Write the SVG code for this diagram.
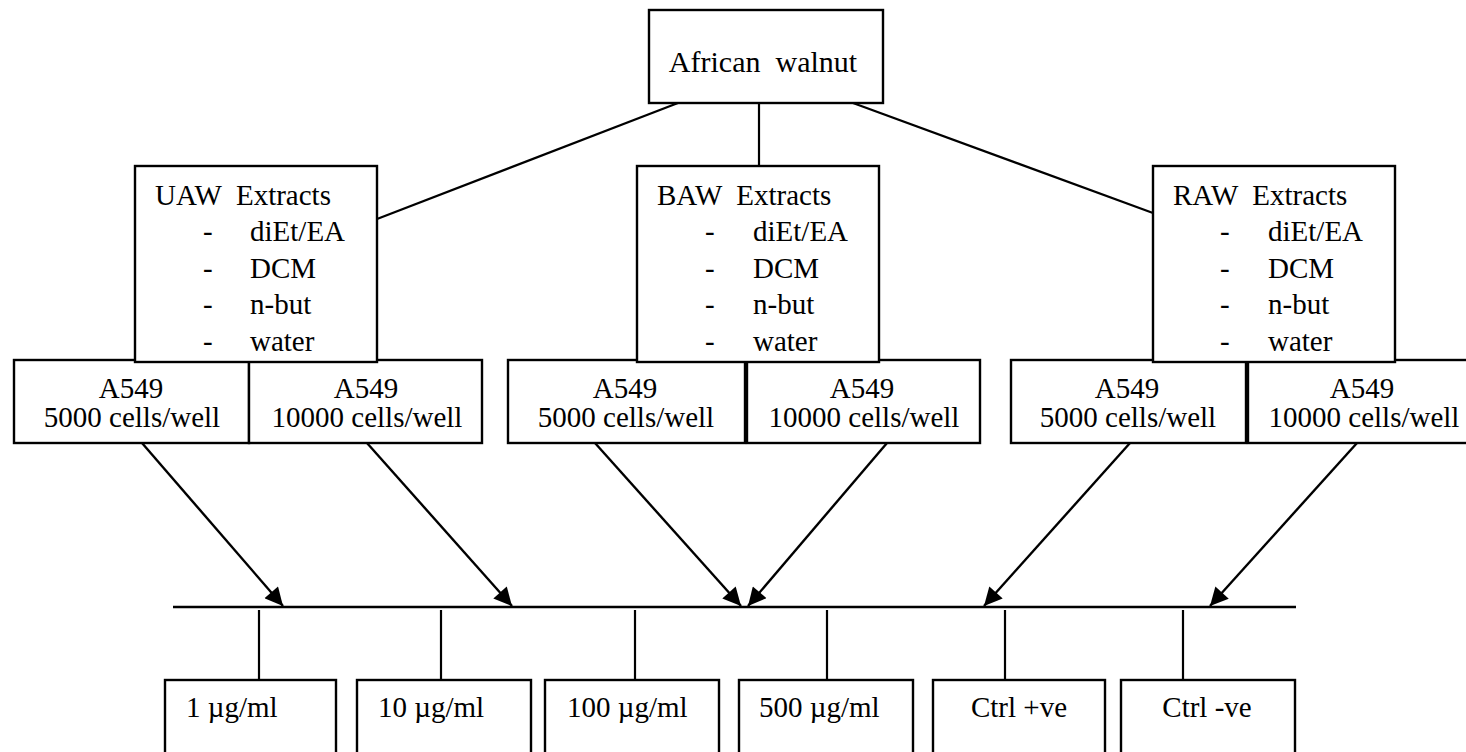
<svg xmlns="http://www.w3.org/2000/svg" width="1466" height="752" viewBox="0 0 1466 752">
<style>
  .box { fill: #ffffff; stroke: #000000; stroke-width: 2.4; }
  .t { font-family: "Liberation Serif", "Times New Roman", serif; font-size: 29px; fill: #000000; }
  .c { text-anchor: middle; }
  .ln { stroke: #000000; stroke-width: 2.2; fill: none; }
  .ar { stroke: #000000; stroke-width: 2.4; fill: none; marker-end: url(#ah); }
</style>
<defs>
  <marker id="ah" viewBox="0 0 10 10" refX="10" refY="5" markerWidth="9.5" markerHeight="7.5" markerUnits="strokeWidth" orient="auto">
    <path d="M0,0 L10,5 L0,10 z" fill="#000000"/>
  </marker>
</defs>
<rect width="1466" height="752" fill="#ffffff"/>

<g id="connectors">
  <line class="ln" x1="678" y1="103" x2="377" y2="219"/>
  <line class="ln" x1="759" y1="103" x2="759" y2="166"/>
  <line class="ln" x1="853" y1="103" x2="1153" y2="213"/>
  <line class="ar" x1="142" y1="443" x2="283" y2="606"/>
  <line class="ar" x1="367" y1="443" x2="512" y2="606"/>
  <line class="ar" x1="595" y1="443" x2="741" y2="606"/>
  <line class="ar" x1="887" y1="443" x2="748" y2="606"/>
  <line class="ar" x1="1130" y1="443" x2="984" y2="606"/>
  <line class="ar" x1="1357" y1="443" x2="1210" y2="606"/>
  <line class="ln" x1="173" y1="607" x2="1296" y2="607" style="stroke-width:2.6"/>
  <line class="ln" x1="259" y1="610" x2="259" y2="680"/>
  <line class="ln" x1="441" y1="610" x2="441" y2="680"/>
  <line class="ln" x1="635" y1="610" x2="635" y2="680"/>
  <line class="ln" x1="827" y1="610" x2="827" y2="680"/>
  <line class="ln" x1="1005" y1="610" x2="1005" y2="680"/>
  <line class="ln" x1="1183" y1="610" x2="1183" y2="680"/>
</g>

<g id="walnut">
  <rect class="box" x="649" y="10" width="234" height="93"/>
  <text class="t c" x="763" y="72" xml:space="preserve" style="font-size:30px">African  walnut</text>
</g>

<g id="uaw-a549-5000">
  <rect class="box" x="14" y="360" width="235" height="83"/>
  <text class="t c" x="131" y="398">A549</text>
  <text class="t c" x="132" y="427">5000 cells/well</text>
</g>
<g id="uaw-a549-10000">
  <rect class="box" x="249" y="360" width="233" height="83"/>
  <text class="t c" x="366" y="398">A549</text>
  <text class="t c" x="367" y="427">10000 cells/well</text>
</g>
<g id="baw-a549-5000">
  <rect class="box" x="508" y="360" width="237" height="83"/>
  <text class="t c" x="625" y="398">A549</text>
  <text class="t c" x="626" y="427">5000 cells/well</text>
</g>
<g id="baw-a549-10000">
  <rect class="box" x="747" y="360" width="233" height="83"/>
  <text class="t c" x="862" y="398">A549</text>
  <text class="t c" x="864" y="427">10000 cells/well</text>
</g>
<g id="raw-a549-5000">
  <rect class="box" x="1011" y="360" width="235" height="83"/>
  <text class="t c" x="1127" y="398">A549</text>
  <text class="t c" x="1128" y="427">5000 cells/well</text>
</g>
<g id="raw-a549-10000">
  <rect class="box" x="1248" y="360" width="232" height="83"/>
  <text class="t c" x="1362" y="398">A549</text>
  <text class="t c" x="1364" y="427">10000 cells/well</text>
</g>

<g id="uaw">
  <rect class="box" x="135" y="166" width="242" height="196"/>
  <text class="t" x="155" y="205" xml:space="preserve">UAW  Extracts</text>
  <text class="t" x="203" y="241">-</text><text class="t" x="250" y="241">diEt/EA</text>
  <text class="t" x="203" y="278">-</text><text class="t" x="250" y="278">DCM</text>
  <text class="t" x="203" y="314">-</text><text class="t" x="250" y="314">n-but</text>
  <text class="t" x="203" y="351">-</text><text class="t" x="250" y="351">water</text>
</g>
<g id="baw">
  <rect class="box" x="637" y="166" width="242" height="196"/>
  <text class="t" x="657" y="205" xml:space="preserve">BAW  Extracts</text>
  <text class="t" x="705" y="241">-</text><text class="t" x="753" y="241">diEt/EA</text>
  <text class="t" x="705" y="278">-</text><text class="t" x="753" y="278">DCM</text>
  <text class="t" x="705" y="314">-</text><text class="t" x="753" y="314">n-but</text>
  <text class="t" x="705" y="351">-</text><text class="t" x="753" y="351">water</text>
</g>
<g id="raw">
  <rect class="box" x="1153" y="166" width="242" height="196"/>
  <text class="t" x="1173" y="205" xml:space="preserve">RAW  Extracts</text>
  <text class="t" x="1220" y="241">-</text><text class="t" x="1268" y="241">diEt/EA</text>
  <text class="t" x="1220" y="278">-</text><text class="t" x="1268" y="278">DCM</text>
  <text class="t" x="1220" y="314">-</text><text class="t" x="1268" y="314">n-but</text>
  <text class="t" x="1220" y="351">-</text><text class="t" x="1268" y="351">water</text>
</g>

<g id="c1">
  <rect class="box" x="165" y="680" width="171" height="90"/>
  <text class="t" x="186" y="717">1 µg/ml</text>
</g>
<g id="c10">
  <rect class="box" x="357" y="680" width="174" height="90"/>
  <text class="t" x="378" y="717">10 µg/ml</text>
</g>
<g id="c100">
  <rect class="box" x="545" y="680" width="174" height="90"/>
  <text class="t" x="567" y="717">100 µg/ml</text>
</g>
<g id="c500">
  <rect class="box" x="739" y="680" width="174" height="90"/>
  <text class="t" x="759" y="717">500 µg/ml</text>
</g>
<g id="ctrlpos">
  <rect class="box" x="933" y="680" width="172" height="90"/>
  <text class="t c" x="1019" y="717">Ctrl +ve</text>
</g>
<g id="ctrlneg">
  <rect class="box" x="1121" y="680" width="174" height="90"/>
  <text class="t c" x="1207" y="717">Ctrl -ve</text>
</g>
</svg>
